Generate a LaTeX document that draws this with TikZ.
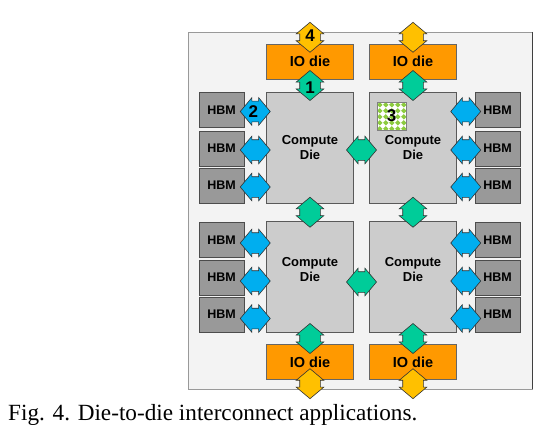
\documentclass[tikz,border=0pt]{standalone}
\usepackage{fontspec}
\setmainfont{Liberation Serif}
\setsansfont{Liberation Sans}
\usetikzlibrary{shapes.arrows,calc}
\definecolor{ioorange}{HTML}{FF9900}
\definecolor{diegray}{HTML}{CCCCCC}
\definecolor{hbmgray}{HTML}{999999}
\definecolor{boardgray}{HTML}{F3F3F3}
\definecolor{linkgreen}{HTML}{00CC99}
\definecolor{linkblue}{HTML}{00AEEF}
\definecolor{linkyellow}{HTML}{FFC000}
\definecolor{dotgreen}{HTML}{8CCB3F}

\begin{document}
\begin{tikzpicture}[x=1pt,y=-1pt,
  io node/.style={draw=black!60,fill=ioorange,minimum width=87pt,minimum height=35pt,inner sep=0pt,
    font=\sffamily\bfseries\fontsize{14.5}{16}\selectfont},
  die node/.style={draw=black!65,fill=diegray,minimum width=87pt,minimum height=111pt,inner sep=0pt},
  die text/.style={align=center,inner sep=0pt,font=\sffamily\bfseries\fontsize{13}{15}\selectfont},
  hbm node/.style={draw=black!70,fill=hbmgray,minimum width=45pt,minimum height=35pt,inner sep=0pt,
    font=\sffamily\bfseries\fontsize{12.5}{14}\selectfont},
  link/.style={double arrow,draw=black!80,line width=.6pt,inner xsep=0pt,inner ysep=10pt,
    double arrow head extend=3.5pt,double arrow tip angle=100,minimum height=30pt},
  num/.style={inner sep=0pt,font=\sffamily\bfseries\fontsize{17}{17}\selectfont}]
  \useasboundingbox (0,0) rectangle (552,436);

  % board
  \draw[fill=boardgray,draw=black!40] (188,32) rectangle (532,389);
  \draw[black!75,line width=.8pt] (532,32) -- (532,389);

  % dies
  \node[io node] (io1) at (310,61.5) {IO die};
  \node[io node] (io2) at (413,61.5) {IO die};
  \node[die node] (cd1) at (310,147.5) {};
  \node[die node] (cd2) at (413,147.5) {};
  \node[die node] (cd3) at (310,277) {};
  \node[die node] (cd4) at (413,277) {};
  \node[io node] (io3) at (310,362) {IO die};
  \node[io node] (io4) at (413,362) {IO die};

  \node[die text] (t1) at (cd1) {Compute\\Die};
  \node[die text] (t2) at (cd2) {Compute\\Die};
  \node[die text] (t3) at ([yshift=7pt]cd3.center) {Compute\\Die};
  \node[die text] (t4) at ([yshift=7pt]cd4.center) {Compute\\Die};

  % memory stacks
  \node[hbm node] (h1) at (221.5,110) {HBM};
  \node[hbm node] (h2) at (221.5,148.5) {HBM};
  \node[hbm node] (h3) at (221.5,185.5) {HBM};
  \node[hbm node] (h4) at (221.5,240) {HBM};
  \node[hbm node] (h5) at (221.5,277.5) {HBM};
  \node[hbm node] (h6) at (221.5,314.5) {HBM};
  \node[hbm node] (h7) at (497.5,110) {HBM};
  \node[hbm node] (h8) at (497.5,148.5) {HBM};
  \node[hbm node] (h9) at (497.5,185.5) {HBM};
  \node[hbm node] (h10) at (497.5,240) {HBM};
  \node[hbm node] (h11) at (497.5,277.5) {HBM};
  \node[hbm node] (h12) at (497.5,314.5) {HBM};

  % die-to-die links
  \node[link,fill=linkyellow,rotate=90] (y1) at ($(io1.north)+(0,-6.5)$) {};
  \node[link,fill=linkyellow,rotate=90] (y2) at ($(io2.north)+(0,-6.5)$) {};
  \node[link,fill=linkyellow,rotate=90] (y3) at ($(io3.south)+(0,4)$) {};
  \node[link,fill=linkyellow,rotate=90] (y4) at ($(io4.south)+(0,4)$) {};
  \node[link,fill=linkgreen,rotate=90] (g1) at ($(io1.south)!.5!(cd1.north)$) {};
  \node[link,fill=linkgreen,rotate=90] (g2) at ($(io2.south)!.5!(cd2.north)$) {};
  \node[link,fill=linkgreen,rotate=90] (g3) at ($(cd1.south)!.5!(cd3.north)$) {};
  \node[link,fill=linkgreen,rotate=90] (g4) at ($(cd2.south)!.5!(cd4.north)$) {};
  \node[link,fill=linkgreen,rotate=90] (g5) at ($(cd3.south)!.5!(io3.north)$) {};
  \node[link,fill=linkgreen,rotate=90] (g6) at ($(cd4.south)!.5!(io4.north)$) {};
  \node[link,fill=linkgreen] (g7) at ($(cd1.east)!.5!(cd2.west)+(0,2.5)$) {};
  \node[link,fill=linkgreen] (g8) at ($(cd3.east)!.5!(cd4.west)+(0,5)$) {};

  \node[link,fill=linkblue] (b1) at ($(h1.east)!.5!(h1.east-|cd1.west)+(0,1.5)$) {};
  \node[link,fill=linkblue] (b2) at ($(h2.east)!.5!(h2.east-|cd1.west)+(0,1.5)$) {};
  \node[link,fill=linkblue] (b3) at ($(h3.east)!.5!(h3.east-|cd1.west)+(0,1.5)$) {};
  \node[link,fill=linkblue] (b4) at ($(h4.east)!.5!(h4.east-|cd3.west)+(0,3)$) {};
  \node[link,fill=linkblue] (b5) at ($(h5.east)!.5!(h5.east-|cd3.west)+(0,3.5)$) {};
  \node[link,fill=linkblue] (b6) at ($(h6.east)!.5!(h6.east-|cd3.west)+(0,4)$) {};
  \node[link,fill=linkblue] (b7) at ($(h7.west)!.5!(h7.west-|cd2.east)+(0,1.5)$) {};
  \node[link,fill=linkblue] (b8) at ($(h8.west)!.5!(h8.west-|cd2.east)+(0,1.5)$) {};
  \node[link,fill=linkblue] (b9) at ($(h9.west)!.5!(h9.west-|cd2.east)+(0,1.5)$) {};
  \node[link,fill=linkblue] (b10) at ($(h10.west)!.5!(h10.west-|cd4.east)+(0,3)$) {};
  \node[link,fill=linkblue] (b11) at ($(h11.west)!.5!(h11.west-|cd4.east)+(0,3.5)$) {};
  \node[link,fill=linkblue] (b12) at ($(h12.west)!.5!(h12.west-|cd4.east)+(0,4)$) {};

  % patterned tile
  \node[draw=black!50,fill=white,minimum width=29pt,minimum height=28pt,inner sep=0pt] (chk) at (391.5,116) {};
  \begin{scope}
    \clip (chk.south west) rectangle (chk.north east);
    \foreach \i in {0,...,4}
      \foreach \j in {0,...,4}
        \fill[dotgreen] ($(chk.north west)+(3+6*\i,3+6*\j)$) +(-2.7,0) -- +(0,-2.7) -- +(2.7,0) -- +(0,2.7) -- cycle;
  \end{scope}
  \draw[black!50] (chk.south west) rectangle (chk.north east);

  % labels
  \node[num] (n4) at ($(y1)+(0,-1.5)$) {4};
  \node[num] (n1) at ($(g1)+(0,2.5)$) {1};
  \node[num] (n2) at ($(b1)+(-2,0.5)$) {2};
  \node[num] (n3) at (chk) {3};

  \node[anchor=base west,inner sep=0pt,font=\fontsize{23.2}{26}\selectfont] (cap) at (8,420)
    {Fig. 4. Die-to-die interconnect applications.};
\end{tikzpicture}
\end{document}
